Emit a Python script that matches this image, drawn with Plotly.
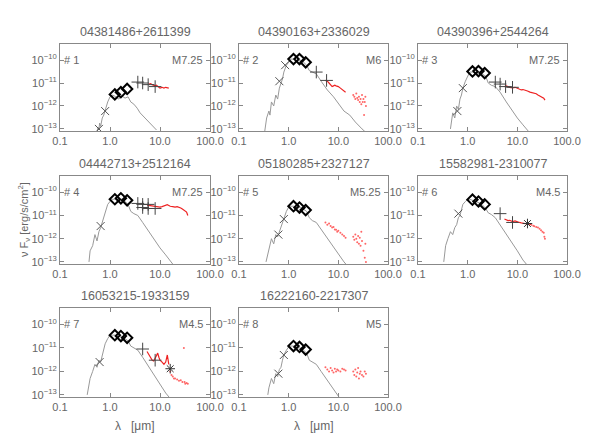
import plotly.graph_objects as go

names = ["04381486+2611399", "04390163+2336029", "04390396+2544264", "04442713+2512164",
         "05180285+2327127", "15582981-2310077", "16053215-1933159", "16222160-2217307"]
sptypes = ["M7.25", "M6", "M7.25", "M7.25", "M5.25", "M4.5", "M4.5", "M5"]

model_wl = [
 [0.55,0.58,0.6,0.62,0.65,0.7,0.75,0.8,0.85,0.9,1.0,1.1,1.2,1.3,1.5,1.7,2.0,2.3,2.6,3.0,3.5,4.0,5,6,7,8.5],
 [0.33,0.36,0.4,0.42,0.45,0.5,0.55,0.6,0.65,0.7,0.75,0.8,0.9,1.0,1.1,1.25,1.5,1.7,2.0,2.3,2.6,3.0,3.6,4.5,6,8,10,13,17,22,30,36],
 [0.45,0.5,0.55,0.6,0.65,0.7,0.75,0.8,0.9,1.0,1.1,1.25,1.5,1.7,2.0,2.3,2.6,3.0,3.6,4.5,6,8,10,13,17,20],
 [0.38,0.4,0.45,0.5,0.55,0.6,0.65,0.7,0.75,0.8,0.9,1.0,1.1,1.25,1.5,1.7,2.0,2.3,2.6,3.0,3.6,4.5,6,8,10,13,17,20],
 [0.35,0.4,0.45,0.5,0.55,0.6,0.65,0.7,0.75,0.8,0.9,1.0,1.1,1.25,1.5,1.7,2.0,2.3,2.6,3.0,3.6,4.5,6,8,10,13,15],
 [0.33,0.36,0.4,0.45,0.5,0.55,0.6,0.65,0.7,0.75,0.8,0.9,1.0,1.1,1.25,1.5,1.7,2.0,2.3,2.6,3.0,3.6,4.5,6,8,10,13,17,20],
 [0.35,0.4,0.45,0.5,0.55,0.6,0.65,0.7,0.75,0.8,0.9,1.0,1.1,1.25,1.5,1.7,2.0,2.3,2.6,3.0,3.6,4.5,6,8,10,13,16],
 [0.38,0.4,0.45,0.5,0.55,0.6,0.65,0.7,0.75,0.8,0.9,1.0,1.1,1.25,1.5,1.7,2.0,2.3,2.6,3.0,3.6,4.5,6,8,10,13,15],
]
model_flux = [
 [8e-14,1.2e-13,9e-14,1.8e-13,1.3e-13,3e-13,4e-13,7e-13,1.2e-12,1.5e-12,2.5e-12,3e-12,2.8e-12,2.5e-12,2e-12,2.8e-12,2.2e-12,2.5e-12,1.5e-12,1.2e-12,8e-13,5e-13,3e-13,2e-13,1.5e-13,9e-14],
 [8e-14,3e-13,6e-13,4e-13,1.5e-12,1e-12,3e-12,2e-12,6e-12,9e-12,1.5e-11,3e-11,6e-11,8e-11,1.1e-10,1.1e-10,9e-11,1e-10,8e-11,6e-11,3.5e-11,3e-11,2.5e-11,1.2e-11,5e-12,2.5e-12,1.3e-12,6e-13,4e-13,2e-13,1e-13,7e-14],
 [1e-13,5e-13,3e-13,1e-12,7e-13,2e-12,3e-12,6e-12,1.2e-11,2e-11,3e-11,3e-11,2.5e-11,3e-11,2.3e-11,2e-11,1e-11,8e-12,7e-12,4e-12,1.5e-12,6e-13,3e-13,1.5e-13,8e-14,5e-14],
 [1e-13,3e-13,5e-13,1.5e-12,8e-13,2e-12,3e-12,5e-12,8e-12,1.5e-11,3e-11,4e-11,5e-11,5e-11,4e-11,5e-11,4e-11,3e-11,1.5e-11,1.2e-11,1e-11,5e-12,2e-12,8e-13,4e-13,2e-13,1e-13,6e-14],
 [1e-13,4e-13,1e-12,6e-13,1.5e-12,1.2e-12,2e-12,3e-12,5e-12,8e-12,1.5e-11,2.3e-11,2.5e-11,2.5e-11,2e-11,2.3e-11,1.8e-11,1.5e-11,8e-12,6e-12,5e-12,2.5e-12,1e-12,4e-13,2e-13,1e-13,7e-14],
 [1e-13,5e-13,1e-12,2e-12,1.5e-12,3e-12,4e-12,8e-12,1e-11,2e-11,3e-11,4e-11,5e-11,5e-11,4.5e-11,4e-11,3.5e-11,2.8e-11,2e-11,1.3e-11,1.1e-11,8e-12,4e-12,1.5e-12,6e-13,3e-13,1.2e-13,6e-14,4e-14],
 [1e-13,5e-13,1e-12,2e-12,1.5e-12,3e-12,2.5e-12,5e-12,8e-12,1.5e-11,2.5e-11,3.5e-11,3.5e-11,3.5e-11,3e-11,3e-11,2.5e-11,2e-11,1.2e-11,1e-11,8e-12,4e-12,1.5e-12,6e-13,3e-13,1.2e-13,7e-14],
 [1e-13,2e-13,5e-13,3e-13,8e-13,6e-13,1.2e-12,1.5e-12,3e-12,5e-12,8e-12,1.1e-11,1.2e-11,1.2e-11,1e-11,1e-11,8e-12,6e-12,3e-12,2.5e-12,2e-12,1e-12,4e-13,1.5e-13,8e-14,4e-14,3e-14],
]

jhk_wl = [1.25, 1.65, 2.2]
jhk_flux = [
 [3.2e-12, 4e-12, 5.5e-12], [1.1e-10, 1.1e-10, 8e-11], [3.2e-11, 3.3e-11, 2.7e-11], [5e-11, 5.5e-11, 4.5e-11],
 [2.5e-11, 2.2e-11, 1.7e-11], [4.8e-11, 4e-11, 3e-11], [3.5e-11, 3.2e-11, 2.7e-11], [1.2e-11, 1.1e-11, 8.5e-12],
]
opt_wl = [[0.6, 0.8], [0.65, 0.85], [0.62, 0.8], [0.65], [0.62, 0.8], [0.65], [0.62], [0.62, 0.8]]
opt_flux = [[1e-13, 6e-13], [1.2e-11, 6e-11], [6e-13, 6e-12], [3.5e-12], [1.5e-12, 7e-12], [1.2e-11], [2.5e-12], [8e-13, 5e-12]]
irac_wl = [[3.6, 4.5, 5.8, 8.0], [3.6, 5.8], [3.6, 4.5, 5.8, 8.0], [3.6, 4.5, 4.5, 5.8, 5.8, 8.0], [], [4.5, 8.0], [4.5, 8.0], []]
irac_flux = [[1.1e-11, 1e-11, 8.5e-12, 7e-12], [3e-11, 1.3e-11], [1.1e-11, 9e-12, 7e-12, 6.5e-12],
             [3.3e-11, 3e-11, 2.2e-11, 3e-11, 2e-11, 2e-11], [], [1.2e-11, 5e-12], [9e-12, 3e-12], []]
mips_wl = [[], [], [], [], [], [16], [16], []]
mips_flux = [[], [], [], [], [], [4.5e-12], [1.3e-12], []]

irs_line_wl = [
 [6, 6.5, 7, 7.5, 8, 8.5, 9, 9.5, 10, 11, 12, 13, 14, 15],
 [5.5, 6, 6.5, 7, 7.5, 8, 8.5, 9, 10, 11, 12, 13, 14],
 [5.5, 6, 7, 8, 9, 10, 11, 12, 13, 14, 16, 18, 20, 22, 24, 26, 28, 30, 32, 34, 36],
 [5.5, 6, 7, 8, 9, 10, 11, 12, 13, 14, 15, 16, 18, 20, 22, 24, 26, 28, 30, 32, 34, 36],
 [],
 [5.5, 6, 6.5, 7, 7.5, 8, 9, 10, 11, 12, 13, 14, 15, 16, 18, 20],
 [5.5, 6, 6.5, 7, 7.5, 8, 8.5, 9, 9.5, 10, 11, 12, 13, 14, 15],
 [],
]
irs_line_flux = [
 [9e-12, 9.5e-12, 8.5e-12, 8e-12, 7.5e-12, 8e-12, 7e-12, 6.5e-12, 6e-12, 6.5e-12, 6e-12, 6.5e-12, 6.2e-12, 6e-12],
 [1.3e-11, 1.2e-11, 1e-11, 8e-12, 7e-12, 7.5e-12, 8e-12, 7.5e-12, 7e-12, 6e-12, 5e-12, 4.5e-12, 4e-12],
 [7e-12, 7.5e-12, 6.5e-12, 6.2e-12, 6.5e-12, 6e-12, 5.5e-12, 5e-12, 5.2e-12, 4.8e-12, 4.5e-12, 4e-12, 3.8e-12, 3.6e-12, 3.4e-12, 3e-12, 2.8e-12, 2.6e-12, 2.5e-12, 2.2e-12, 1.8e-12],
 [2.8e-11, 2.7e-11, 2.6e-11, 2.5e-11, 2.4e-11, 2.3e-11, 2.4e-11, 2.6e-11, 2.8e-11, 2.9e-11, 2.7e-11, 2.5e-11, 2.4e-11, 2.3e-11, 2.4e-11, 2.3e-11, 2.1e-11, 1.9e-11, 1.7e-11, 1.6e-11, 1.4e-11, 1e-11],
 [],
 [7e-12, 6.5e-12, 6e-12, 6.2e-12, 5.8e-12, 5.5e-12, 5.8e-12, 5.2e-12, 5e-12, 4.8e-12, 4.6e-12, 4.4e-12, 4.5e-12, 4.3e-12, 4.2e-12, 3.8e-12],
 [7e-12, 5e-12, 3.5e-12, 3e-12, 2.8e-12, 3.5e-12, 4.5e-12, 6e-12, 4e-12, 3e-12, 2.5e-12, 2e-12, 2.5e-12, 5e-12, 2e-12],
 [],
]
irs_dot_wl = [
 [],
 [20, 21, 22, 23, 24, 25, 26, 27, 28, 29, 30, 31, 32, 33, 34, 35, 36],
 [],
 [],
 [5.5, 6, 6.5, 7, 7.5, 8, 8.5, 9, 9.5, 10, 11, 12, 13, 14, 20, 21, 22, 23, 24, 25, 26, 27, 28, 29, 30, 32, 34, 35, 36],
 [21, 22, 24, 26, 28, 30, 32, 34, 35, 36],
 [16, 17, 18, 19, 20, 22, 24, 26, 28, 30, 31, 32, 34, 36],
 [5.5, 6, 6.5, 7, 7.5, 8, 8.5, 9, 9.5, 10, 11, 12, 13, 14, 20, 21, 22, 23, 24, 25, 26, 27, 28, 30, 32, 34, 36],
]
irs_dot_flux = [
 [],
 [3e-12, 2.5e-12, 2e-12, 3.5e-12, 2.2e-12, 1.8e-12, 2.5e-12, 1.5e-12, 2e-12, 1.2e-12, 3e-12, 1.5e-12, 2e-12, 4e-13, 1.5e-12, 2.5e-12, 1e-12],
 [],
 [],
 [5e-12, 4e-12, 4.5e-12, 3.5e-12, 3e-12, 3.2e-12, 2.5e-12, 2.4e-12, 2e-12, 2.2e-12, 1.8e-12, 1.5e-12, 1.3e-12, 1.1e-12, 1.2e-12, 9e-13, 1.5e-12, 1e-12, 7e-13, 1.3e-12, 6e-13, 1.1e-12, 5e-13, 2e-12, 8e-13, 3e-13, 1.5e-13, 6e-13, 1e-13],
 [3.6e-12, 3.4e-12, 3.2e-12, 3e-12, 2.7e-12, 2.3e-12, 2e-12, 1.8e-12, 1.2e-12, 1e-12],
 [1e-12, 7e-13, 6e-13, 5e-13, 5e-13, 4.5e-13, 4e-13, 4.2e-13, 3.5e-13, 1e-11, 3.5e-13, 3e-13, 3.2e-13, 3e-13],
 [1.5e-12, 1.2e-12, 1e-12, 1.4e-12, 1.1e-12, 9e-13, 1.3e-12, 1e-12, 1.2e-12, 1.1e-12, 1e-12, 1.3e-12, 1.2e-12, 1.1e-12, 1e-12, 7e-13, 1.2e-12, 6e-13, 9e-13, 1.4e-12, 5e-13, 8e-13, 1e-12, 7e-13, 6e-13, 1e-12, 8e-13],
]

x_tickvals = [0.1, 1, 10, 100]
x_ticktext = ["0.1", "1.0", "10.0", "100.0"]
y_tickvals = [1e-13, 1e-12, 1e-11, 1e-10]
y_ticktext = ["10<sup>−13</sup>", "10<sup>−12</sup>", "10<sup>−11</sup>", "10<sup>−10</sup>"]

W, H = 598, 441
OFF = 8  # page body margin
col_px = [(60, 210), (239, 388), (418, 567)]
row_px = [(44, 131), (176, 264), (308, 397)]
GRAY = "#666666"
FONT = "Liberation Sans"

def px_x(p):
    return (p - OFF) / W

def px_y(p):
    return 1 - (p - OFF) / H

fig = go.Figure()
layout = dict(width=W, height=H, margin=dict(l=0, r=0, t=0, b=0, pad=0, autoexpand=False), showlegend=False,
              plot_bgcolor="white", paper_bgcolor="white",
              font=dict(family=FONT, size=11, color=GRAY))
annotations = []
for i in range(8):
    r, c = divmod(i, 3)
    x0, x1 = col_px[c]
    y0, y1 = row_px[r]
    xd = [px_x(x0), px_x(x1)]
    yd = [px_y(y1), px_y(y0)]
    n = "" if i == 0 else str(i + 1)
    xa, ya = "x" + n, "y" + n
    common = dict(showline=True, linecolor="#888888", linewidth=1, mirror="ticks", ticks="inside",
                  ticklen=4, tickcolor="#888888", showgrid=False, zeroline=False, automargin=False,
                  tickfont=dict(family=FONT, size=11, color=GRAY))
    layout["xaxis" + n] = dict(common, type="log", range=[-1, 2], domain=xd, anchor=ya,
                              tickvals=x_tickvals, ticktext=x_ticktext)
    layout["yaxis" + n] = dict(common, type="log", range=[-13.09, -9.3], domain=yd, anchor=xa,
                              tickvals=y_tickvals, ticktext=y_ticktext)
    fig.add_trace(go.Scatter(x=model_wl[i], y=model_flux[i], mode="lines", xaxis=xa, yaxis=ya,
                             line=dict(color="#999999", width=1)))
    fig.add_trace(go.Scatter(x=irs_line_wl[i], y=irs_line_flux[i], mode="lines", xaxis=xa, yaxis=ya,
                             line=dict(color="#ee2222", width=1.2)))
    fig.add_trace(go.Scatter(x=irs_dot_wl[i], y=irs_dot_flux[i], mode="markers", xaxis=xa, yaxis=ya,
                             marker=dict(size=2, color="#ff6666")))
    fig.add_trace(go.Scatter(x=opt_wl[i], y=opt_flux[i], mode="markers", xaxis=xa, yaxis=ya,
                             marker=dict(symbol="x-thin-open", size=8, color="#555555",
                                         line=dict(color="#555555", width=1))))
    fig.add_trace(go.Scatter(x=irac_wl[i], y=irac_flux[i], mode="markers", xaxis=xa, yaxis=ya,
                             marker=dict(symbol="cross-thin-open", size=9, color="#444444",
                                         line=dict(color="#444444", width=1))))
    fig.add_trace(go.Scatter(x=mips_wl[i], y=mips_flux[i], mode="markers", xaxis=xa, yaxis=ya,
                             marker=dict(symbol="asterisk-open", size=8, color="#333333",
                                         line=dict(color="#333333", width=1))))
    fig.add_trace(go.Scatter(x=jhk_wl, y=jhk_flux[i], mode="markers", xaxis=xa, yaxis=ya,
                             marker=dict(symbol="diamond-open", size=8, color="black",
                                         line=dict(color="black", width=2))))
    cx = (xd[0] + xd[1]) / 2
    annotations.append(dict(text=names[i], x=cx, y=yd[1], xref="paper", yref="paper", xanchor="center",
                            yanchor="bottom", yshift=3, showarrow=False, font=dict(size=12.5, color=GRAY)))
    annotations.append(dict(text="# " + str(i + 1), x=xd[0], y=yd[1], xref="paper", yref="paper",
                            xanchor="left", yanchor="top", xshift=2, yshift=-8, showarrow=False,
                            font=dict(size=11, color=GRAY)))
    annotations.append(dict(text=sptypes[i], x=xd[1], y=yd[1], xref="paper", yref="paper",
                            xanchor="right", yanchor="top", xshift=-5, yshift=-8, showarrow=False,
                            font=dict(size=11, color=GRAY)))
    if r == 2:
        annotations.append(dict(text="λ   [μm]", x=cx, y=yd[0], xref="paper", yref="paper", xanchor="center",
                                yanchor="top", yshift=-20, showarrow=False, font=dict(size=12, color=GRAY)))
annotations.append(dict(text="ν F<sub>ν</sub> [erg/s/cm<sup>2</sup>]", x=px_x(14), y=px_y(220),
                        xref="paper", yref="paper", textangle=-90, showarrow=False,
                        font=dict(size=11, color=GRAY)))
layout["annotations"] = annotations
fig.update_layout(**layout)
fig.write_html("out.html")
